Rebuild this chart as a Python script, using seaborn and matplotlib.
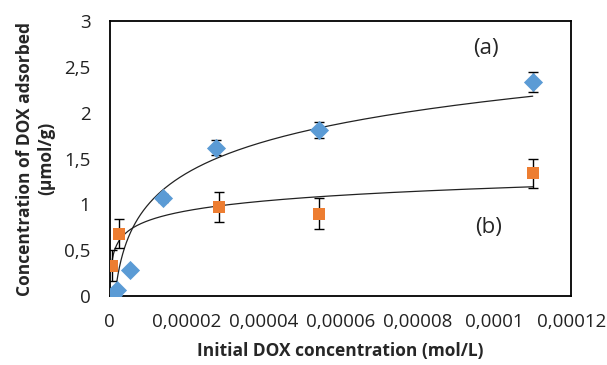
import numpy as np
import pandas as pd
import matplotlib
matplotlib.use("Agg")
import matplotlib.pyplot as plt
import seaborn as sns

# (a) blue diamonds
conc_a = [7e-7, 1.8e-6, 5.2e-6, 1.37e-5, 2.75e-5, 5.45e-5, 1.1e-4]
ads_a = [0.01, 0.065, 0.28, 1.07, 1.62, 1.81, 2.34]
err_a = [0, 0, 0, 0.04, 0.08, 0.09, 0.11]

# (b) orange squares
conc_b = [5e-7, 2.3e-6, 2.85e-5, 5.45e-5, 1.1e-4]
ads_b = [0.33, 0.68, 0.97, 0.90, 1.34]
err_b = [0.17, 0.16, 0.16, 0.17, 0.16]

x_ticks = [0, 0.00002, 0.00004, 0.00006, 0.00008, 0.0001, 0.00012]
x_labels = ["0", "0,00002", "0,00004", "0,00006", "0,00008", "0,0001", "0,00012"]
y_ticks = [0, 0.5, 1, 1.5, 2, 2.5, 3]
y_labels = ["0", "0,5", "1", "1,5", "2", "2,5", "3"]

blue = "#5B9BD5"
orange = "#ED7D31"

sns.set_style("white")
plt.rcParams["font.family"] = ["Open Sans", "DejaVu Sans"]

fig = plt.figure(figsize=(6.07, 3.65), dpi=100)
ax = fig.add_axes([0.181, 0.189, 0.760, 0.753])


def log_trend(x, y):
    # Excel-style logarithmic trendline
    x = np.asarray(x)
    y = np.asarray(y)
    k, b = np.polyfit(np.log(x), y, 1)
    xs = np.geomspace(x.min(), x.max(), 400)
    return pd.DataFrame({"x": xs, "y": k * np.log(xs) + b})


ta = log_trend(conc_a, ads_a)
tb = log_trend(conc_b, ads_b)
sns.lineplot(data=ta, x="x", y="y", color="#222222", lw=0.9, ax=ax, zorder=2)
sns.lineplot(data=tb, x="x", y="y", color="#222222", lw=0.9, ax=ax, zorder=2)

ax.errorbar(conc_a, ads_a, yerr=err_a, fmt="none", ecolor="black",
            elinewidth=1, capsize=3.5, capthick=1, zorder=3)
ax.errorbar(conc_b, ads_b, yerr=err_b, fmt="none", ecolor="black",
            elinewidth=1, capsize=3.5, capthick=1, zorder=3)

sns.scatterplot(x=conc_a, y=ads_a, marker="D", s=95, color=blue,
                edgecolor=blue, linewidth=0, ax=ax, zorder=4)
sns.scatterplot(x=conc_b, y=ads_b, marker="s", s=72, color=orange,
                edgecolor=orange, linewidth=0, ax=ax, zorder=4)

ax.set_xlim(0, 0.00012)
ax.set_ylim(0, 3)
ax.set_xticks(x_ticks)
ax.set_xticklabels(x_labels)
ax.set_yticks(y_ticks)
ax.set_yticklabels(y_labels)
ax.tick_params(axis="both", direction="out", length=5, width=0.8,
               color="#888888", labelsize=13.5, labelcolor="#222222")
ax.tick_params(axis="x", pad=7)
ax.tick_params(axis="y", pad=9)

for side in ["left", "right", "top", "bottom"]:
    ax.spines[side].set_color("black")
    ax.spines[side].set_linewidth(1.3)

ax.set_xlabel("Initial DOX concentration (mol/L)", fontsize=12.5,
              fontweight="bold", labelpad=8)
ax.set_ylabel("Concentration of DOX adsorbed\n(µmol/g)", fontsize=12.5,
              fontweight="bold", labelpad=6, linespacing=1.25)

ax.text(0.0000979, 2.705, "(a)", fontsize=16, ha="center", va="center")
ax.text(0.0000984, 0.75, "(b)", fontsize=16, ha="center", va="center")

plt.savefig("out.png", dpi=100)
